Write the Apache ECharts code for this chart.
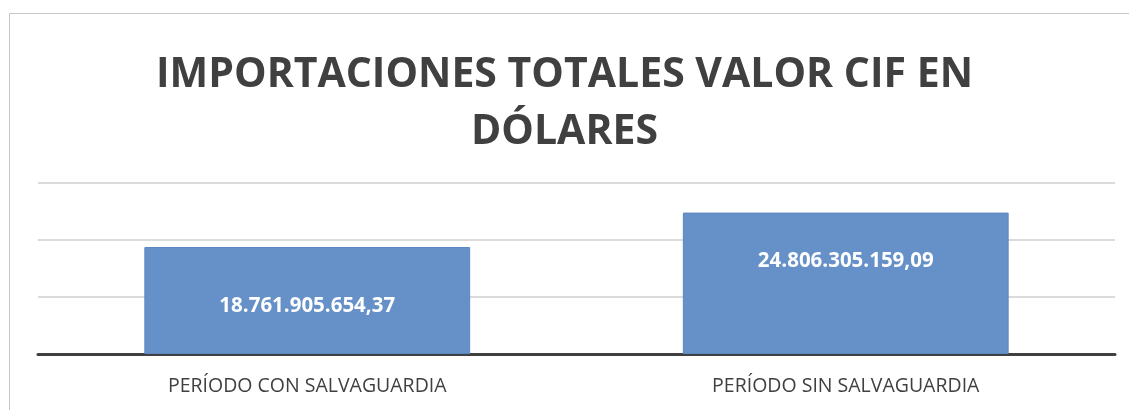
<!DOCTYPE html>
<html><head><meta charset="utf-8">
<script src="https://cdn.jsdelivr.net/npm/echarts@6/dist/echarts.min.js"></script>
<style>html,body{margin:0;padding:0;background:#fff}#c{width:1129px;height:410px}</style>
</head><body><div id="c"></div>
<script>
const categories = ['PERÍODO CON SALVAGUARDIA', 'PERÍODO SIN SALVAGUARDIA'];
const values = [18761905654.37, 24806305159.09];
const valueLabels = ['18.761.905.654,37', '24.806.305.159,09'];
const labelPos = [['50%', '55%'], ['50%', '34%']];

const chart = echarts.init(document.getElementById('c'));
chart.setOption({
  backgroundColor: '#fff',
  animation: false,
  title: {
    text: 'IMPORTACIONES TOTALES VALOR CIF EN\nDÓLARES',
    left: 'center', top: 42,
    textStyle: { fontFamily: 'Open Sans', fontWeight: 'bold', fontSize: 41, color: '#404040', lineHeight: 57 }
  },
  graphic: [{
    type: 'rect', shape: { x: 9.5, y: 13.5, width: 1130, height: 420 },
    style: { fill: 'none', stroke: '#c6c6c6', lineWidth: 1 }, silent: true
  }],
  grid: { left: 38, right: 14, top: 183, bottom: 56 },
  xAxis: {
    type: 'category', data: categories,
    axisLine: { lineStyle: { color: '#404040', width: 3 } },
    axisTick: { show: false },
    axisLabel: { fontFamily: 'Open Sans', fontSize: 19.5, color: '#404040', margin: 22 }
  },
  yAxis: {
    type: 'value', min: 0, max: 30000000000, interval: 10000000000,
    axisLabel: { show: false }, axisLine: { show: false }, axisTick: { show: false },
    splitLine: { lineStyle: { color: '#cfcfcf', width: 1.5 } }
  },
  series: [{
    type: 'bar', barWidth: '60.5%',
    itemStyle: { color: '#6590c8', borderColor: '#5a86c2', borderWidth: 1 },
    data: values.map((v, i) => ({
      value: v,
      label: { show: true, position: labelPos[i], align: 'center', verticalAlign: 'middle',
        formatter: valueLabels[i],
        fontFamily: 'Open Sans', fontWeight: 'bold', fontSize: 20.5, color: '#fff' }
    }))
  }]
});
</script></body></html>
